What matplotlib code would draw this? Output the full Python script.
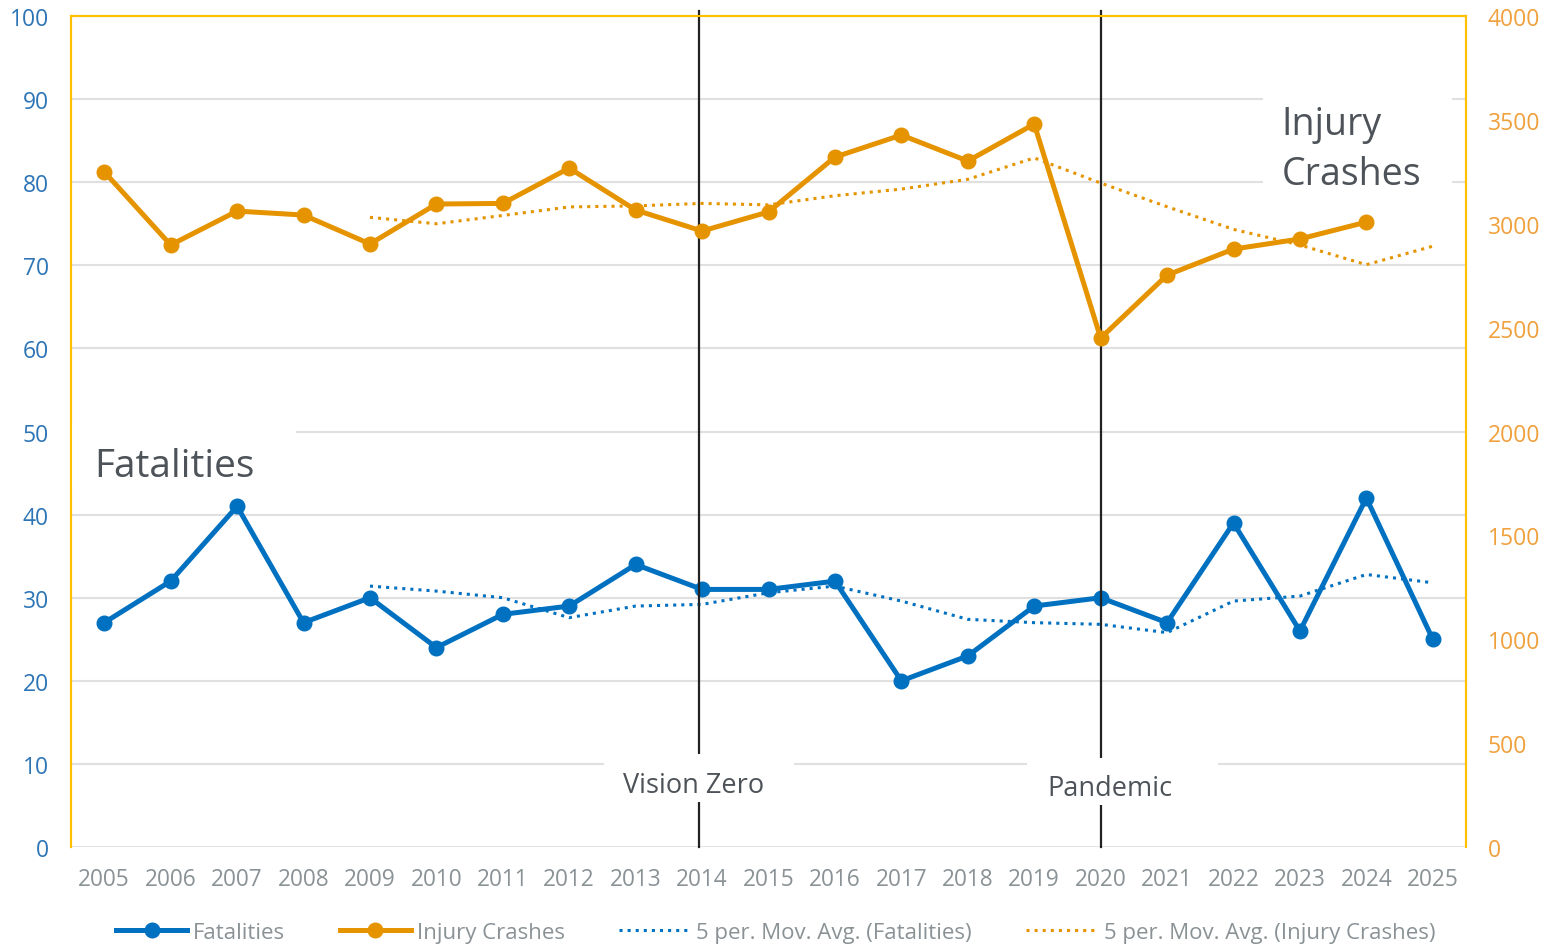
import numpy as np
import matplotlib
matplotlib.use("Agg")
import matplotlib.pyplot as plt
from matplotlib.lines import Line2D
from matplotlib.patches import Rectangle

plt.rcParams['font.family'] = ['Open Sans', 'DejaVu Sans']

years = [str(y) for y in range(2005, 2026)]

fatalities = [27, 32, 41, 27, 30, 24, 28, 29, 34, 31, 31, 32, 20, 23, 29, 30, 27, 39, 26, 42, 25]
fatal_ma = [None, None, None, None, 31.4, 30.8, 30.0, 27.6, 29.0, 29.2, 30.6, 31.4,
            29.6, 27.4, 27.0, 26.8, 25.8, 29.6, 30.2, 32.8, 31.8]

injury = [3250, 2898, 3061, 3042, 2903, 3095, 3098, 3268, 3066, 2965, 3057, 3321,
          3427, 3302, 3480, 2450, 2753, 2878, 2927, 3008, None]
injury_ma = [None, None, None, None, 3031, 3000, 3040, 3081, 3086, 3098, 3091, 3135,
             3167, 3214, 3317, 3196, 3082, 2973, 2898, 2803, 2892]

left_ticks = [0, 10, 20, 30, 40, 50, 60, 70, 80, 90, 100]
right_ticks = [0, 500, 1000, 1500, 2000, 2500, 3000, 3500, 4000]

BLUE = '#0070C0'
ORANGE = '#E59400'
YELLOW = '#FFC000'
GRID = '#E0E0E0'
GRAYTXT = '#8A9296'
DARKTXT = '#4D5358'

def arr(v):
    return np.array([np.nan if x is None else x for x in v], dtype=float)

x = np.arange(len(years))

fig = plt.figure(figsize=(15.51, 9.45), dpi=100)
ax = fig.add_axes([0.0458, 0.1026, 0.8994, 0.8794])
ax2 = ax.twinx()

# gridlines
for t in left_ticks[1:]:
    ax.axhline(t, color=GRID, lw=1.5, zorder=0)
ax.axhline(0, color=GRID, lw=2, zorder=0)

# fatalities
ax.plot(x, arr(fatal_ma), ':', color=BLUE, lw=2.2, zorder=3)
ax.plot(x, arr(fatalities), '-o', color=BLUE, lw=3.6, ms=10.5, zorder=4)

# injury crashes
ax2.plot(x, arr(injury_ma), ':', color=ORANGE, lw=2.2, zorder=3)
ax2.plot(x, arr(injury), '-o', color=ORANGE, lw=3.6, ms=10.5, zorder=4)

# event lines
for xv in [8.95, 15]:
    ax.axvline(xv, ymin=0, ymax=1.006, color='#222222', lw=1.6, zorder=5, clip_on=False)

# white label boxes (x0, y0, w, h in data units)
for (bx, by, bw, bh) in [(7.52, 5.4, 2.87, 5.8), (13.89, 5.05, 2.88, 5.66),
                         (-0.5, 43.0, 3.39, 8.0), (17.45, 78.6, 2.84, 12.0)]:
    ax.add_patch(Rectangle((bx, by), bw, bh, facecolor='white', edgecolor='none', zorder=5.5))

ax.text(8.87, 7.45, 'Vision Zero', fontsize=19.5, color=DARKTXT, ha='center', va='center', zorder=6)
ax.text(15.14, 7.1, 'Pandemic', fontsize=19.5, color=DARKTXT, ha='center', va='center', zorder=6)
ax.text(-0.15, 45.8, 'Fatalities', fontsize=28, color=DARKTXT, ha='left', va='center', zorder=6)
ax.text(17.72, 84.0, 'Injury\nCrashes', fontsize=27, color=DARKTXT, ha='left', va='center',
        linespacing=1.4, zorder=6)

ax.set_xlim(-0.5, 20.5)
ax.set_ylim(0, 100)
ax2.set_ylim(0, 4000)
ax.set_xticks(x)
ax.set_xticklabels(years)
ax.set_yticks(left_ticks)
ax2.set_yticks(right_ticks)

ax.tick_params(axis='x', length=0, pad=14.5, labelsize=16.3, labelcolor=GRAYTXT)
ax.tick_params(axis='y', length=0, pad=16, labelsize=16.5, labelcolor='#2E75B6')
ax2.tick_params(axis='y', length=0, pad=15.5, labelsize=16.5, labelcolor='#F0A03C')

for a in (ax, ax2):
    for s in ['left', 'right', 'top']:
        a.spines[s].set_color(YELLOW)
        a.spines[s].set_linewidth(1.5)
    a.spines['bottom'].set_visible(False)

handles = [
    Line2D([], [], color=BLUE, lw=3.6, marker='o', ms=10.5),
    Line2D([], [], color=ORANGE, lw=3.6, marker='o', ms=10.5),
    Line2D([], [], color=BLUE, lw=2.2, ls=':'),
    Line2D([], [], color=ORANGE, lw=2.2, ls=':'),
]
labels = ['Fatalities', 'Injury Crashes', '5 per. Mov. Avg. (Fatalities)',
          '5 per. Mov. Avg. (Injury Crashes)']
leg = fig.legend(handles, labels, loc='center', bbox_to_anchor=(0.5, 0.012), ncol=4,
                 frameon=False, fontsize=16, handlelength=3.2, handletextpad=0.27,
                 columnspacing=2.45, labelcolor=GRAYTXT)

fig.savefig('out.png', dpi=100)
